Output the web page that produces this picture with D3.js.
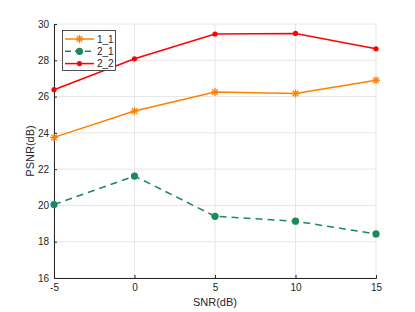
<!DOCTYPE html>
<html>
<head>
<meta charset="utf-8">
<script src="https://cdn.jsdelivr.net/npm/d3@7"></script>
<style>
  body { margin: 0; background: #fff; }
  text { font-family: "Liberation Sans", Arial, sans-serif; }
</style>
</head>
<body>
<div id="vis"></div>
<script>
const snr = [-5, 0, 5, 10, 15];
const s11 = [23.75, 25.2, 26.25, 26.17, 26.9];
const s21 = [20.05, 21.62, 19.4, 19.13, 18.43];
const s22 = [26.38, 28.08, 29.45, 29.48, 28.63];
const xTicks = [-5, 0, 5, 10, 15];
const yTicks = [16, 18, 20, 22, 24, 26, 28, 30];
const seriesNames = ['1_1', '2_1', '2_2'];

const width = 415;
const height = 312;
const margin = {top: 24, right: 39, bottom: 34, left: 54};

const svg = d3.select('#vis').append('svg')
  .attr('width', width)
  .attr('height', height);

const x = d3.scaleLinear().domain([-5, 15]).range([margin.left, width - margin.right]);
const y = d3.scaleLinear().domain([16, 30]).range([height - margin.bottom, margin.top]);

// grid
svg.append('g').selectAll('line.gx').data(xTicks).enter().append('line')
  .attr('x1', d => x(d)).attr('x2', d => x(d))
  .attr('y1', y(16)).attr('y2', y(30))
  .attr('stroke', '#e6e6e6').attr('stroke-width', 1);
svg.append('g').selectAll('line.gy').data(yTicks).enter().append('line')
  .attr('x1', x(-5)).attr('x2', x(15))
  .attr('y1', d => y(d)).attr('y2', d => y(d))
  .attr('stroke', '#e6e6e6').attr('stroke-width', 1);

// axes
const xAxis = svg.append('g')
  .attr('transform', `translate(0,${y(16)})`)
  .call(d3.axisBottom(x).tickValues(xTicks).tickFormat(d => String(d)).tickSize(-3).tickPadding(6));
const yAxis = svg.append('g')
  .attr('transform', `translate(${x(-5)},0)`)
  .call(d3.axisLeft(y).tickValues(yTicks).tickFormat(d => String(d)).tickSize(-3).tickPadding(5));
[xAxis, yAxis].forEach(g => {
  g.select('.domain').attr('stroke', '#262626').attr('stroke-width', 1);
  g.selectAll('.tick line').attr('stroke', '#262626');
  g.selectAll('.tick text').attr('fill', '#262626').style('font-size', '10px');
});

svg.append('text')
  .attr('x', (x(-5) + x(15)) / 2).attr('y', 306)
  .attr('text-anchor', 'middle').attr('fill', '#262626')
  .style('font-size', '11px').text('SNR(dB)');
svg.append('text')
  .attr('transform', `translate(34,${(y(16) + y(30)) / 2}) rotate(-90)`)
  .attr('text-anchor', 'middle').attr('fill', '#262626')
  .style('font-size', '11px').text('PSNR(dB)');

const line = d3.line().x((d, i) => x(snr[i])).y(d => y(d));

function star(g, cx, cy, r, color) {
  [[r, 0], [0, r], [r * 0.7, r * 0.7], [r * 0.7, -r * 0.7]].forEach(([dx, dy]) => {
    g.append('line')
      .attr('x1', cx - dx).attr('x2', cx + dx)
      .attr('y1', cy - dy).attr('y2', cy + dy)
      .attr('stroke', color).attr('stroke-width', 1.3);
  });
}

const orange = '#ff8000';
const green = '#1a8a5a';
const red = '#ff0000';

// 1_1
svg.append('path').datum(s11).attr('d', line)
  .attr('fill', 'none').attr('stroke', orange).attr('stroke-width', 1.5);
s11.forEach((v, i) => star(svg, x(snr[i]), y(v), 4, orange));

// 2_1
svg.append('path').datum(s21).attr('d', line)
  .attr('fill', 'none').attr('stroke', green).attr('stroke-width', 1.5)
  .attr('stroke-dasharray', '7,5');
svg.selectAll('circle.s21').data(s21).enter().append('circle')
  .attr('cx', (d, i) => x(snr[i])).attr('cy', d => y(d))
  .attr('r', 3.6).attr('fill', green);

// 2_2
svg.append('path').datum(s22).attr('d', line)
  .attr('fill', 'none').attr('stroke', red).attr('stroke-width', 1.5);
svg.selectAll('circle.s22').data(s22).enter().append('circle')
  .attr('cx', (d, i) => x(snr[i])).attr('cy', d => y(d))
  .attr('r', 2.6).attr('fill', red);

// legend
const lg = svg.append('g');
lg.append('rect')
  .attr('x', 62.5).attr('y', 30.5).attr('width', 53).attr('height', 40)
  .attr('fill', '#fff').attr('stroke', '#262626').attr('stroke-width', 0.8);
const colors = [orange, green, red];
seriesNames.forEach((name, i) => {
  const ly = 39 + i * 12.3;
  lg.append('line')
    .attr('x1', 65).attr('x2', 94).attr('y1', ly).attr('y2', ly)
    .attr('stroke', colors[i]).attr('stroke-width', 1.5)
    .attr('stroke-dasharray', i === 1 ? '6,4' : null);
  if (i === 0) star(lg, 79.5, ly, 4, orange);
  else lg.append('circle').attr('cx', 79.5).attr('cy', ly)
    .attr('r', i === 1 ? 3.6 : 2.6).attr('fill', colors[i]);
  lg.append('text').attr('x', 97).attr('y', ly + 3.5)
    .attr('fill', '#262626').style('font-size', '10px').text(name);
});
</script>
</body>
</html>
